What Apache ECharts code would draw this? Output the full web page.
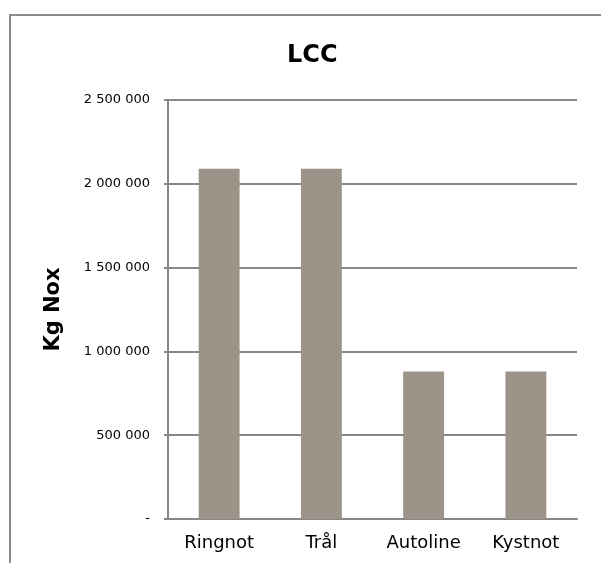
<!DOCTYPE html>
<html>
<head>
<meta charset="utf-8">
<script src="https://cdn.jsdelivr.net/npm/echarts@6/dist/echarts.min.js"></script>
<style>
  html, body { margin: 0; padding: 0; background: #fff; }
  #chart { width: 601px; height: 563px; }
</style>
</head>
<body>
<div id="chart"></div>
<script>
// values
const categories = ['Ringnot', 'Tr\u00e5l', 'Autoline', 'Kystnot']
const kgNox = [2090000, 2090000, 880000, 880000]
const yTicks = [0, 500000, 1000000, 1500000, 2000000, 2500000]

const fmt = (v) => {
  if (v === 0) return '-'
  return String(v).replace(/\B(?=(\d{3})+(?!\d))/g, ' ')
}

const myChart = echarts.init(document.getElementById('chart'), null, { renderer: 'canvas' })

const option = {
  backgroundColor: '#ffffff',
  animation: false,
  title: {
    text: 'LCC',
    left: 282,
    top: 39,
    textStyle: { fontFamily: 'DejaVu Sans', fontSize: 24, fontWeight: 'bold', color: '#000' }
  },
  graphic: [
    {
      type: 'rect',
      shape: { x: 10, y: 15, width: 800, height: 800 },
      style: { fill: 'none', stroke: '#8c8c8c', lineWidth: 2 },
      silent: true
    }
  ],
  grid: { left: 168, right: 24, top: 100, bottom: 44 },
  xAxis: {
    type: 'category',
    data: categories,
    axisLine: { show: true, lineStyle: { color: '#878787', width: 2 } },
    axisTick: { show: false },
    axisLabel: { fontFamily: 'DejaVu Sans', fontSize: 18, color: '#000', margin: 15 }
  },
  yAxis: {
    type: 'value',
    min: yTicks[0],
    max: yTicks[yTicks.length - 1],
    interval: yTicks[1] - yTicks[0],
    name: 'Kg Nox',
    nameLocation: 'middle',
    nameGap: 104,
    nameRotate: 90,
    nameTextStyle: { fontFamily: 'DejaVu Sans', fontSize: 21, fontWeight: 'bold', color: '#000' },
    axisLine: { show: true, lineStyle: { color: '#878787', width: 2 } },
    axisTick: { show: true, length: 4, lineStyle: { color: '#878787', width: 2 } },
    axisLabel: { fontFamily: 'DejaVu Sans', fontSize: 13, color: '#000', margin: 18, formatter: fmt },
    splitLine: { show: true, lineStyle: { color: '#878787', width: 2 } }
  },
  series: [
    {
      name: 'Kg Nox',
      type: 'bar',
      data: kgNox,
      barCategoryGap: '60%',
      itemStyle: { color: '#9d9489' }
    }
  ]
}

myChart.setOption(option)
window.addEventListener('resize', () => myChart.resize())
</script>
</body>
</html>
